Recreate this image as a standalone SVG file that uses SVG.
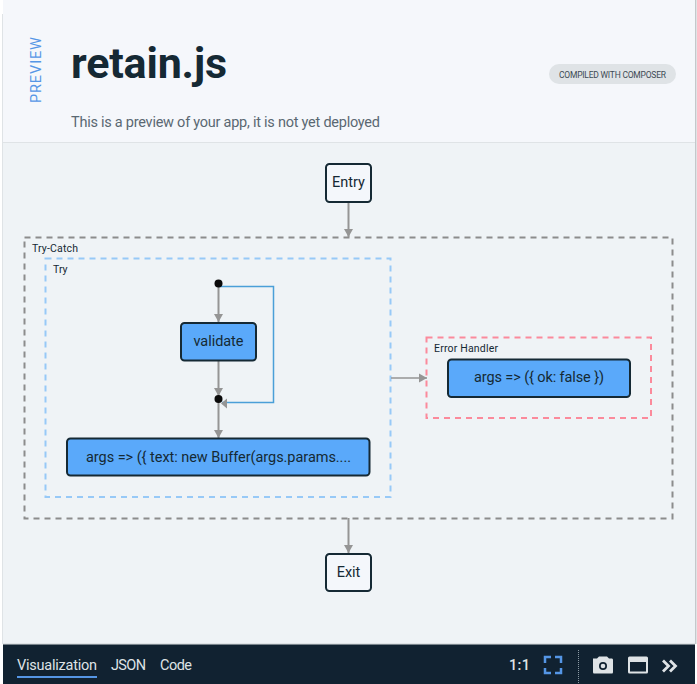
<svg xmlns="http://www.w3.org/2000/svg" width="697" height="684" viewBox="0 0 697 684">
<style>
text{font-family:Roboto,"Liberation Sans",sans-serif}
.n{fill:#5aa9fa;stroke:#152934;stroke-width:2}
.w{fill:#f4f7fb;stroke:#152934;stroke-width:2}
.t{font-size:14.500px;fill:#152934;text-anchor:middle}
.c{font-size:10.500px;fill:#152934}
.g{fill:none;stroke-width:2;stroke-dasharray:6 5}
.e{fill:none;stroke:#959595;stroke-width:2}
.tab{font-size:14.500px;fill:#dfe3e6}
</style>
<defs>
<marker id="a" markerUnits="userSpaceOnUse" markerWidth="10" markerHeight="10" refX="8" refY="5" orient="auto"><path d="M0 .5L8 5L0 9.500Z" fill="#959595"/></marker>
</defs>
<rect width="697" height="684" fill="#ffffff"/>
<rect x="3" y="0" width="692" height="142" fill="#f5f7fb"/>
<rect x="3" y="142" width="692" height="502" fill="#eff3f6"/>
<rect x="3" y="142" width="692" height="1" fill="#dfe3e6"/>
<rect x="2" y="14" width="1" height="630" fill="#dfe3e6"/>
<rect x="695" y="0" width="1.500" height="644" fill="#c4c8cb"/>
<g id="header">
<text transform="translate(41 103) rotate(-90)" font-size="14.500" fill="#5596e6" textLength="66">PREVIEW</text>
<text x="71" y="78" font-size="43" font-weight="700" fill="#152934" textLength="156">retain.js</text>
<text x="71" y="127" font-size="14.500" fill="#5a6872" textLength="309">This is a preview of your app, it is not yet deployed</text>
<rect x="549" y="64" width="127" height="20" rx="10" fill="#dfe3e6"/>
<text x="559" y="78" font-size="8.500" fill="#3d4a54" textLength="107">COMPILED WITH COMPOSER</text>
</g>
<g id="footer">
<rect x="3" y="644" width="692" height="40" fill="#112231"/>
<rect x="3" y="643" width="692" height="1.500" fill="#dfe3e6"/>
<text class="tab" x="17" y="670" textLength="80">Visualization</text>
<rect x="17" y="676" width="80" height="2" fill="#5596e6"/>
<text class="tab" x="111" y="670" textLength="35">JSON</text>
<text class="tab" x="160" y="670" textLength="32">Code</text>
<text class="tab" x="509" y="670" font-weight="500" textLength="21">1:1</text>
<path d="M545 663V657H551M555 657H561V663M561 668V673H555M551 673H545V668" fill="none" stroke="#5596e6" stroke-width="2.500"/>
<line x1="578.500" y1="650" x2="578.500" y2="684" stroke="#8c9ba5" stroke-dasharray="1 1"/>
<path d="M593 658.500H597L599 656.500H607L609 658.500H612Q613 658.500 613 660V672Q613 673.500 612 673.500H594Q593 673.500 593 672Z" fill="#dfe3e6"/>
<circle cx="603" cy="666" r="4" fill="#112231"/>
<circle cx="603" cy="666" r="2.300" fill="#dfe3e6"/>
<rect x="628" y="656.500" width="20" height="17" rx="1.500" fill="#dfe3e6"/>
<rect x="630" y="662" width="16" height="9.500" fill="#112231"/>
<path d="M663 660.500L668.500 666L663 671.500M670 660.500L675.500 666L670 671.500" fill="none" stroke="#dfe3e6" stroke-width="2.800"/>
</g>
<g id="try-catch"><rect class="g" x="24.500" y="237.500" width="648" height="281" stroke="#8c8c8c"/><text class="c" x="32" y="252" textLength="46">Try-Catch</text></g>
<g id="try"><rect class="g" x="45.500" y="258.500" width="345" height="238.500" stroke="#97c9f7"/><text class="c" x="53" y="273">Try</text></g>
<g id="error-handler"><rect class="g" x="426.500" y="337.500" width="224.500" height="80.500" stroke="#fb8a9b"/><text class="c" x="434" y="352" textLength="64">Error Handler</text></g>
<g id="connectors">
<path class="e" d="M348.500 202V237" marker-end="url(#a)"/>
<path class="e" d="M218.500 284V322" marker-end="url(#a)"/>
<path class="e" d="M218.500 361V396" marker-end="url(#a)"/>
<path class="e" d="M218.500 400V438" marker-end="url(#a)"/>
<path d="M391 378H427" fill="none" stroke="#959595" stroke-width="1.500" marker-end="url(#a)"/>
<path class="e" d="M348.500 518V553" marker-end="url(#a)"/>
<path d="M219 286.500H273.500V402.500H222" fill="none" stroke="#4a9fd8" stroke-width="1.500"/>
<path d="M227 398.500V408.500L221 403.500Z" fill="#959595"/>
</g>
<g id="entry"><rect class="w" x="326" y="164" width="45" height="38" rx="3.500"/><text class="t" x="348.500" y="187">Entry</text></g>
<g id="start-dot"><circle cx="218.500" cy="283.500" r="4" fill="#0a0a0a"/></g>
<g id="validate"><rect class="n" x="181" y="323" width="75" height="37.500" rx="3.500"/><text class="t" x="218.500" y="346" textLength="50">validate</text></g>
<g id="join-dot"><circle cx="218.500" cy="399" r="4" fill="#0a0a0a"/></g>
<g id="buffer"><rect class="n" x="67" y="438.500" width="302.500" height="37" rx="3.500"/><text class="t" x="218.500" y="462" textLength="265">args =&gt; ({ text: new Buffer(args.params....</text></g>
<g id="handler"><rect class="n" x="448" y="359.500" width="182" height="37.500" rx="3.500"/><text class="t" x="539" y="382" textLength="130">args =&gt; ({ ok: false })</text></g>
<g id="exit"><rect class="w" x="326" y="554" width="45" height="37" rx="3.500"/><text class="t" x="348.500" y="577">Exit</text></g>
</svg>
